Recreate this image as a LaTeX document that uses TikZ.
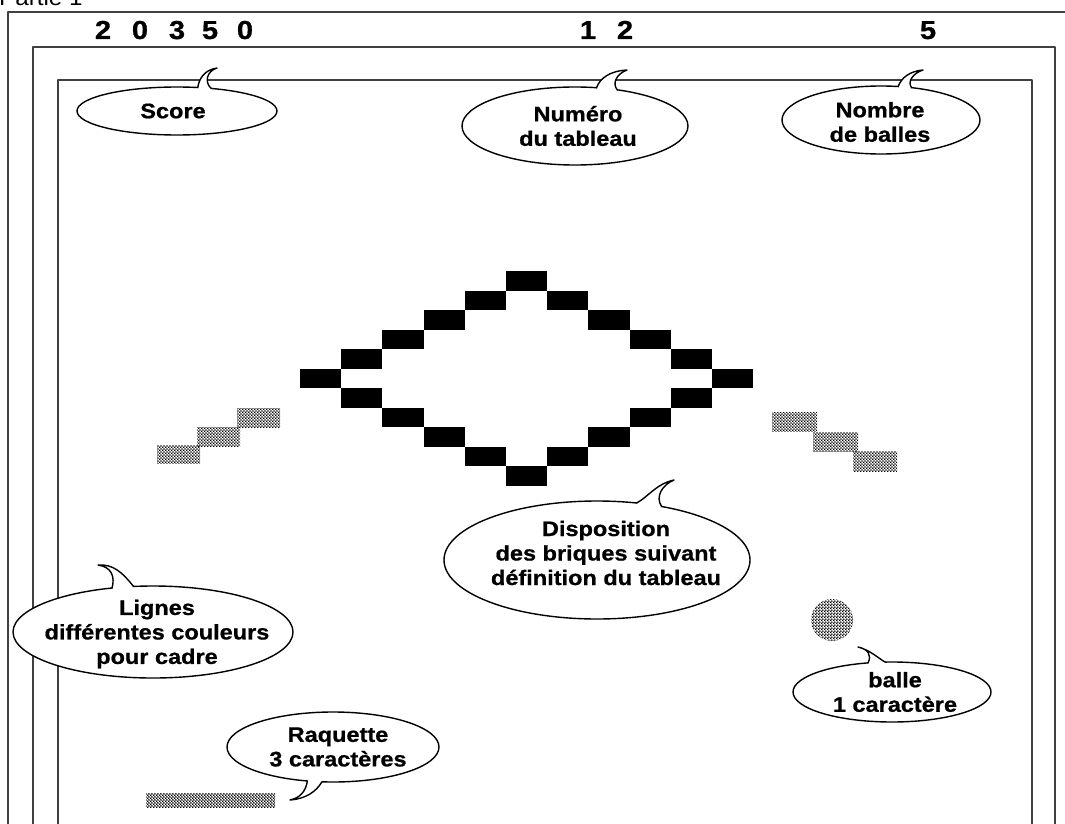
\documentclass[tikz,border=0pt]{standalone}
\usepackage{fontspec}
\setmainfont{Liberation Sans}
\newfontfamily\lblfont[FakeStretch=1.12,FakeBold=0.8]{Liberation Sans Bold}
\newfontfamily\plainfont[FakeStretch=1.1]{Liberation Sans}
\usetikzlibrary{calc,patterns.meta}
\tikzdeclarepattern{
  name=halftone,
  type=uncolored,
  bounding box={(0pt,0pt) and (3.2pt,3.2pt)},
  tile size={(3.2pt,3.2pt)},
  code={
    \fill (0.8pt,0.8pt) circle [radius=1.1pt];
    \fill (2.4pt,2.4pt) circle [radius=1.1pt];
  }
}
\tikzset{
  frame/.style={draw=black!75, line width=1.3pt},
  bubble/.style={draw=black, line width=1.4pt, fill=white},
  spk/.style={draw=black, line width=1.4pt, line cap=round},
  lbl/.style={font=\lblfont\fontsize{21}{24.5}\selectfont, align=center, inner sep=0pt},
  num/.style={font=\lblfont\fontsize{26}{28}\selectfont, anchor=base, inner sep=0pt},
  brick/.style={fill=black},
  gbrick/.style={pattern={halftone}, pattern color=black}
}
\newcommand\bubblespike[9]{%
  \path (#1C) ++(#2:#4 and #5) coordinate (#1A);
  \path (#1C) ++(#3:#4 and #5) coordinate (#1B);
  \fill[white] (#1A) .. controls #6 and #7 .. (#1T) .. controls #8 and #9 .. (#1B) -- (#1M) -- cycle;
  \draw[spk] (#1A) .. controls #6 and #7 .. (#1T) .. controls #8 and #9 .. (#1B);
}
\begin{document}
\begin{tikzpicture}[x=1pt, y=-1pt, line join=round]
\useasboundingbox (0,0) rectangle (1065,824);
\clip (0,0) rectangle (1065,824);
\fill[white] (0,0) rectangle (1065,824);

% title (cut off at the top edge, as in the original scan)
\node[font=\plainfont\fontsize{22}{24}\selectfont, anchor=base west, inner sep=0pt] (partie) at (-1,6) {Partie 1};

% frames
\draw[frame] (8,824) -- (8,12) -- (1065,12);
\draw[frame] (33,824) -- (33,47) -- (1055,47) -- (1055,824);
\draw[frame] (58,824) -- (58,80) -- (1032,80) -- (1032,824);

% numbers
\node[num] (s1) at (103,39) {2};
\node[num] (s2) at (140,39) {0};
\node[num] (s3) at (177,39) {3};
\node[num] (s4) at (210,39) {5};
\node[num] (s5) at (245,39) {0};
\node[num] (t1) at (588,39) {1};
\node[num] (t2) at (625,39) {2};
\node[num] (b1) at (928,39) {5};

% black bricks
\foreach \c/\r in {5/0,4/1,6/1,3/2,7/2,2/3,8/3,1/4,9/4,0/5,10/5,1/6,9/6,2/7,8/7,3/8,7/8,4/9,6/9,5/10}
  \fill[brick] ({300+41.2*\c},{271+19.5*\r}) rectangle ++(41.2,19.5);

% grey bricks
\fill[gbrick] (157,445) rectangle ++(43,18);
\fill[gbrick] (197,427) rectangle ++(43,19);
\fill[gbrick] (237,408) rectangle ++(43,19);
\fill[gbrick] (772,412) rectangle ++(45,19);
\fill[gbrick] (813,432) rectangle ++(45,19);
\fill[gbrick] (853,451) rectangle ++(44,20);

% ball and paddle
\fill[gbrick] (832,620) circle [radius=21];
\fill[gbrick] (146,793) rectangle (275,807);

% bubble: Score
\coordinate (scoreC) at (177,111);
\coordinate (scoreT) at (217,68);
\coordinate (scoreM) at (204,95);
\draw[bubble] (scoreC) ellipse [x radius=100, y radius=24];
\bubblespike{score}{282}{290}{100}{24}{(199,79)}{(204,70)}{(207,71)}{(204,82)}

% bubble: Numero
\coordinate (numC) at (575,126);
\coordinate (numT) at (627,70);
\coordinate (numM) at (607,97);
\draw[bubble] (numC) ellipse [x radius=113, y radius=39];
\bubblespike{num}{281}{292}{113}{39}{(600,78)}{(610,71)}{(616,74)}{(612,84)}

% bubble: Nombre
\coordinate (nbC) at (881,120);
\coordinate (nbT) at (923,70);
\coordinate (nbM) at (905,94);
\draw[bubble] (nbC) ellipse [x radius=99, y radius=34];
\bubblespike{nb}{280}{288}{99}{34}{(901,78)}{(910,71)}{(913,73)}{(907,82)}

% bubble: Disposition
\coordinate (dispC) at (597,560);
\coordinate (dispT) at (674,480);
\coordinate (dispM) at (649,514);
\draw[bubble] (dispC) ellipse [x radius=153, y radius=59];
\bubblespike{disp}{285}{295}{153}{59}{(648,497)}{(656,484)}{(662,485)}{(655,497)}

% bubble: Lignes
\coordinate (lignesC) at (153,632);
\coordinate (lignesT) at (98,565);
\coordinate (lignesM) at (123,595);
\draw[bubble] (lignesC) ellipse [x radius=140, y radius=46];
\bubblespike{lignes}{253}{262}{140}{46}{(115,577)}{(112,567)}{(113,564)}{(122,572)}

% bubble: balle
\coordinate (balleC) at (892,692);
\coordinate (balleT) at (858,647);
\coordinate (balleM) at (879,675);
\draw[bubble] (balleC) ellipse [x radius=99, y radius=30];
\bubblespike{balle}{256}{266}{99}{30}{(872,655)}{(868,649)}{(870,650)}{(878,658)}

% bubble: Raquette
\coordinate (raqC) at (333,747);
\coordinate (raqT) at (290,800);
\coordinate (raqM) at (315,773);
\draw[bubble] (raqC) ellipse [x radius=106, y radius=35];
\bubblespike{raq}{104}{96}{106}{35}{(306,791)}{(300,798)}{(305,799)}{(316,792)}

% labels
\node[lbl] (scoreL) at (173,111) {Score};
\node[lbl] (numL) at (578,126) {Numéro\\du tableau};
\node[lbl] (nbL) at (880,122) {Nombre\\de balles};
\node[lbl] (dispL) at (606,553) {Disposition\\des briques suivant\\définition du tableau};
\node[lbl] (lignesL) at (157,634) {Lignes\\différentes couleurs\\pour cadre};
\node[lbl] (balleL) at (895,692) {balle\\1 caractère};
\node[lbl] (raqL) at (338,747) {Raquette\\3 caractères};
\end{tikzpicture}
\end{document}
